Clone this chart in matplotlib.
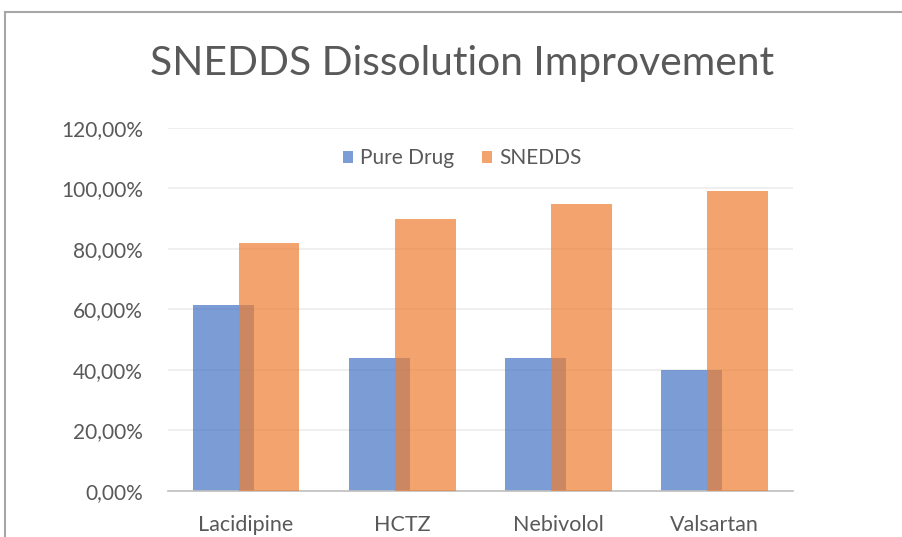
import numpy as np
import matplotlib.pyplot as plt
from matplotlib.patches import Rectangle

drugs = ['Lacidipine', 'HCTZ', 'Nebivolol', 'Valsartan']
pure_drug = [0.615, 0.44, 0.44, 0.40]
snedds = [0.82, 0.90, 0.95, 0.99]
yticks = [0, 0.2, 0.4, 0.6, 0.8, 1.0, 1.2]

plt.rcParams['font.family'] = ['Lato', 'DejaVu Sans']
grey = '#595959'

fig = plt.figure(figsize=(9.03, 5.37), dpi=100)
ax = fig.add_axes([0.186, 0.0857, 0.692, 0.676])

x = np.arange(len(drugs))
w = 0.39
off = 0.147
ax.bar(x - off, pure_drug, w, color='#4472C4', alpha=0.7, label='Pure Drug', zorder=2)
ax.bar(x + off, snedds, w, color='#ED7D31', alpha=0.7, label='SNEDDS', zorder=3)

ax.set_xlim(-0.5, len(drugs) - 0.5)
ax.set_ylim(0, 1.2)
ax.set_yticks(yticks)
ax.set_yticklabels([f'{v*100:.2f}%'.replace('.', ',') for v in yticks])
ax.set_xticks(x)
ax.set_xticklabels(drugs)
ax.tick_params(axis='both', length=0, colors=grey)
ax.tick_params(axis='y', pad=18, labelsize=15)
ax.tick_params(axis='x', pad=17, labelsize=15.5)
ax.grid(axis='y', color='#ececec', linewidth=1.2, zorder=0)
for s in ['top', 'right', 'left']:
    ax.spines[s].set_visible(False)
ax.spines['bottom'].set_color('#bfbfbf')
ax.spines['bottom'].set_linewidth(1.2)

ax.legend(loc='center', bbox_to_anchor=(0.471, 0.916), ncol=2, frameon=False,
          fontsize=15, handlelength=0.5, handleheight=0.5, handletextpad=0.35,
          columnspacing=1.3, labelcolor=grey)

fig.text(0.512, 0.882, 'SNEDDS Dissolution Improvement', ha='center', va='center',
         fontsize=29.3, color=grey)

fig.patches.append(Rectangle((5 / 903, -0.1), 1.2, (537 - 12) / 537 + 0.1,
                             transform=fig.transFigure, fill=False,
                             edgecolor='#a6a6a6', linewidth=1.5))

fig.savefig('out.png', dpi=100)
